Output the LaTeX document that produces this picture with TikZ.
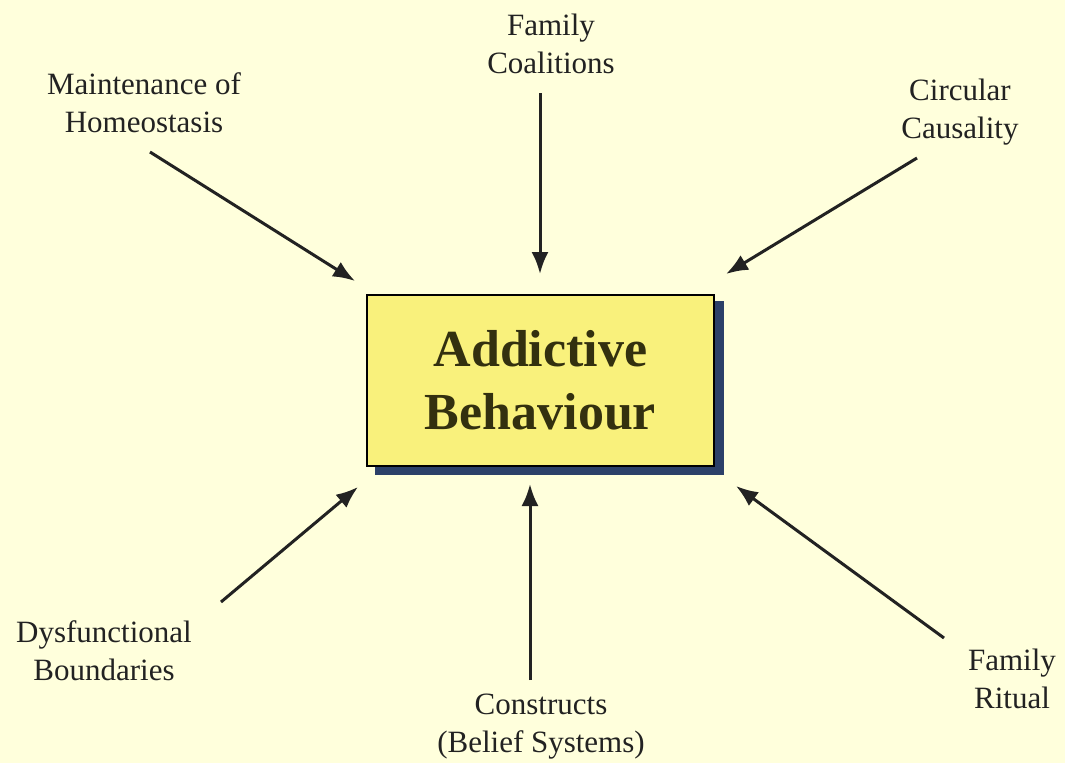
\documentclass[tikz,border=0pt]{standalone}
\usepackage{fontspec}
\setmainfont{Liberation Serif}
\usetikzlibrary{arrows.meta}
\definecolor{bg}{HTML}{FFFFDC}
\definecolor{boxfill}{HTML}{F9F17C}
\definecolor{dropblue}{HTML}{2C4068}
\definecolor{ink}{HTML}{222222}
\definecolor{title}{HTML}{33300F}
\tikzset{
  label/.style={text=ink, align=center, inner sep=0pt,
    font=\fontsize{31}{38}\selectfont},
  arr/.style={draw=ink, line width=3pt,
    -{Latex[length=22pt,width=17pt]}},
  centerbox/.style={fill=boxfill, draw=black, line width=1.5pt,
    minimum width=347pt, minimum height=171pt, inner sep=0pt,
    text=title, align=center,
    font=\fontsize{52}{63}\selectfont\bfseries}
}
\begin{document}
\begin{tikzpicture}[x=1pt,y=-1pt]
  \path[fill=bg] (0,0) rectangle (1065,763);
  \useasboundingbox (0,0) rectangle (1065,763);

  % drop shadow and central box
  \fill[dropblue] (375,301) rectangle (724,475);
  \node[centerbox] (box) at (540.5,380.5) {Addictive\\Behaviour};

  % surrounding factors
  \node[label] (maint) at (144,103) {Maintenance of\\Homeostasis};
  \node[label] (coal)  at (551,44)  {Family\\Coalitions};
  \node[label] (circ)  at (960,112) {Circular\\Causality};
  \node[label] (dysf)  at (104,651) {Dysfunctional\\Boundaries};
  \node[label] (cons)  at (541,727) {Constructs\\(Belief Systems)};
  \node[label] (rit)   at (1012,679) {Family\\Ritual};

  % arrow end points
  \coordinate (maintS) at (150,152);
  \coordinate (maintE) at (355,281);
  \coordinate (coalS)  at (540,93);
  \coordinate (coalE)  at (540,274);
  \coordinate (circS)  at (917,158);
  \coordinate (circE)  at (726,274);
  \coordinate (dysfS)  at (221,602);
  \coordinate (dysfE)  at (358,487);
  \coordinate (consS)  at (530,680);
  \coordinate (consE)  at (530,484);
  \coordinate (ritS)   at (944,638);
  \coordinate (ritE)   at (736,486);

  \draw[arr] (maintS) -- (maintE);
  \draw[arr] (coalS) -- (coalE);
  \draw[arr] (circS) -- (circE);
  \draw[arr] (dysfS) -- (dysfE);
  \draw[arr] (consS) -- (consE);
  \draw[arr] (ritS) -- (ritE);
\end{tikzpicture}
\end{document}
